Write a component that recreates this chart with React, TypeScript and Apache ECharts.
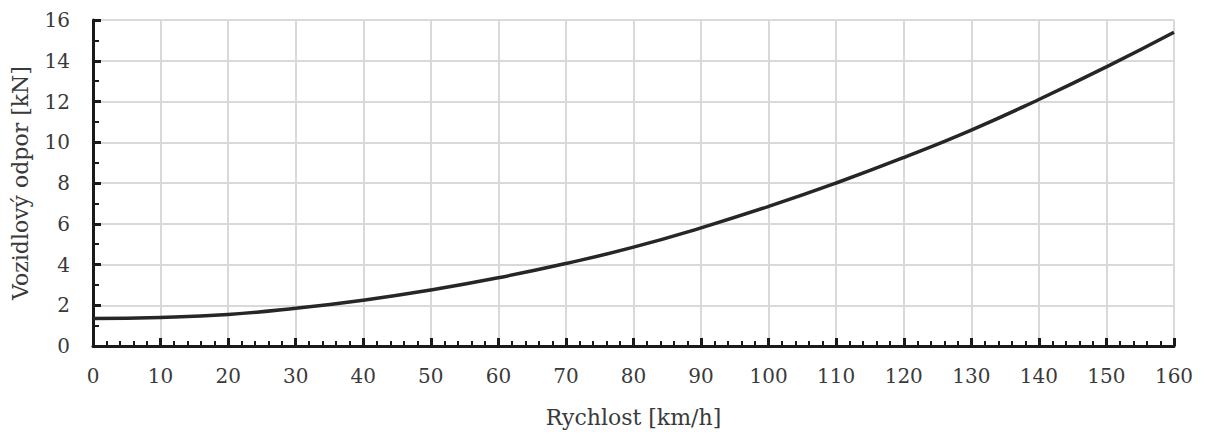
import React, { useEffect, useRef } from "react";
import * as echarts from "echarts";

const speeds = [0, 10, 20, 30, 40, 50, 60, 70, 80, 90, 100, 110, 120, 130, 140, 150, 160];
const resistance = [1.35, 1.4, 1.55, 1.85, 2.25, 2.75, 3.35, 4.05, 4.85, 5.8, 6.85, 8.0, 9.25, 10.6, 12.1, 13.7, 15.4];
const xName = "Rychlost [km/h]";
const yName = "Vozidlový odpor [kN]";

const FONT = "'DejaVu Serif', 'Liberation Serif', serif";
const TEXT = "#3a3a3a";

export default function App() {
  const ref = useRef<HTMLDivElement>(null);
  useEffect(() => {
    if (!ref.current) return;
    const chart = echarts.init(ref.current, undefined, { renderer: "svg" });
    chart.setOption({
      animation: false,
      grid: { left: 93, right: 34, top: 20, bottom: 88, containLabel: false },
      xAxis: {
        type: "value",
        min: 0,
        max: 160,
        interval: 10,
        name: xName,
        nameLocation: "middle",
        nameGap: 60,
        nameTextStyle: { fontFamily: FONT, fontSize: 22, color: TEXT },
        axisLine: { show: true, lineStyle: { color: "#1a1a1a", width: 3 } },
        axisTick: { show: true, inside: true, length: 8, lineStyle: { color: "#1a1a1a", width: 3 } },
        minorTick: { show: true, splitNumber: 5, length: 5, lineStyle: { color: "#1a1a1a", width: 2 } },
        axisLabel: { fontFamily: FONT, fontSize: 20, color: TEXT, margin: 20 },
        splitLine: { show: true, lineStyle: { color: "#d9d9d9", width: 2 } },
      },
      yAxis: {
        type: "value",
        min: 0,
        max: 16,
        interval: 2,
        name: yName,
        nameLocation: "middle",
        nameGap: 62,
        nameRotate: 90,
        nameTextStyle: { fontFamily: FONT, fontSize: 22, color: TEXT },
        axisLine: { show: true, lineStyle: { color: "#1a1a1a", width: 3 } },
        axisTick: { show: true, inside: true, length: 8, lineStyle: { color: "#1a1a1a", width: 3 } },
        minorTick: { show: true, splitNumber: 2, length: 6, lineStyle: { color: "#1a1a1a", width: 2 } },
        axisLabel: { fontFamily: FONT, fontSize: 20, color: TEXT, margin: 23 },
        splitLine: { show: true, lineStyle: { color: "#d9d9d9", width: 2 } },
      },
      series: [
        {
          type: "line",
          data: speeds.map((s, i) => [s, resistance[i]]),
          smooth: true,
          showSymbol: false,
          lineStyle: { color: "#262626", width: 3.5 },
          z: 3,
        },
      ],
    });
    return () => chart.dispose();
  }, []);
  return <div ref={ref} style={{ width: 1208, height: 434, position: "absolute", left: 0, top: 0 }} />;
}
